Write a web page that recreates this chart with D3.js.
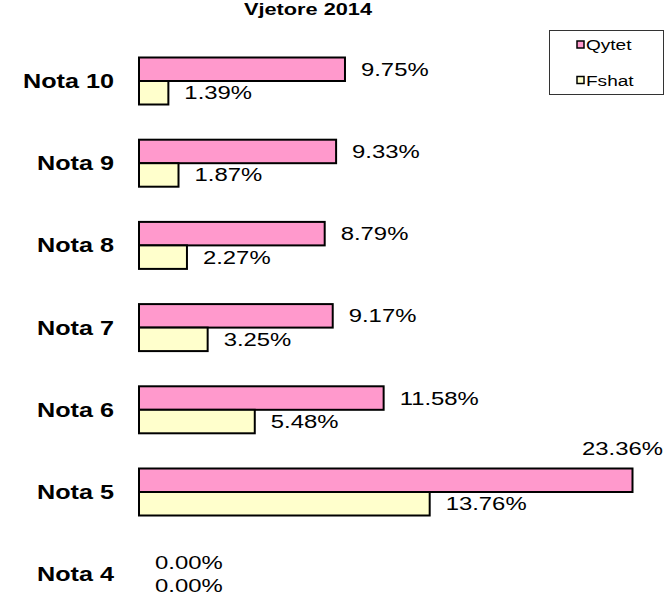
<!DOCTYPE html>
<html>
<head>
<meta charset="utf-8">
<script src="https://cdn.jsdelivr.net/npm/d3@7/dist/d3.min.js"></script>
<style>
  html, body { margin: 0; padding: 0; background: #fff; }
  svg { display: block; }
  text { font-family: "Liberation Sans", Arial, sans-serif; fill: #000; }
</style>
</head>
<body>
<svg id="chart" width="665" height="596"></svg>
<script>
const title = "Vjetore 2014";
const categories = ["Nota 10", "Nota 9", "Nota 8", "Nota 7", "Nota 6", "Nota 5", "Nota 4"];
const seriesNames = ["Qytet", "Fshat"];
const qytet = [9.75, 9.33, 8.79, 9.17, 11.58, 23.36, 0.00];
const fshat = [1.39, 1.87, 2.27, 3.25, 5.48, 13.76, 0.00];
const colors = ["#FF99CC", "#FFFFCC"];

const W = 665, H = 596;
const SX = 1.29; // horizontal stretch of the original rendering
const svg = d3.select("#chart");

const x = d3.scaleLinear().domain([0, 23.36]).range([139, 632.5]);
const y = d3.scaleBand().domain(categories).range([39.9, 615.3]).padding(0);
const barH = 23.5;

function stretchedText(sel, px, py, str, opts) {
  return sel.append("text")
    .attr("transform", `translate(${px},${py}) scale(${opts.sx || SX},1)`)
    .attr("font-size", opts.size)
    .attr("font-weight", opts.weight || "normal")
    .attr("text-anchor", opts.anchor || "start")
    .text(str);
}

// Title
stretchedText(svg, 308, 15, title, {size: 16, weight: "bold", anchor: "middle", sx: 1.36});

const series = [qytet, fshat];
const rows = categories.map((c, i) => ({cat: c, vals: series.map(s => s[i])}));

const g = svg.append("g");
rows.forEach(r => {
  const cy = y(r.cat) + y.bandwidth() / 2;
  stretchedText(g, 114, cy + 7, r.cat, {size: 21, weight: "bold", anchor: "end", sx: 1.2});
  r.vals.forEach((v, k) => {
    const top = cy - barH + k * barH;
    if (v > 0) {
      g.append("rect")
        .attr("x", x(0))
        .attr("y", top)
        .attr("width", x(v) - x(0))
        .attr("height", barH)
        .attr("fill", colors[k])
        .attr("stroke", "#000")
        .attr("stroke-width", 2);
    }
    const label = v.toFixed(2) + "%";
    const lx = x(v) + 16;
    const estW = label.length * 0.58 * 18.5 * SX;
    if (lx + estW > W) {
      stretchedText(g, 663, top - 14, label, {size: 18.5, anchor: "end"});
    } else {
      stretchedText(g, lx, top + barH / 2 + 6.5, label, {size: 18.5});
    }
  });
});

// Legend
const lg = svg.append("g");
lg.append("rect").attr("x", 549.5).attr("y", 30.5).attr("width", 114).attr("height", 64)
  .attr("fill", "#fff").attr("stroke", "#333").attr("stroke-width", 1);
const legY = [44.5, 80];
seriesNames.forEach((n, k) => {
  lg.append("rect").attr("x", 577).attr("y", legY[k] - 3.5).attr("width", 7).attr("height", 7)
    .attr("fill", colors[k]).attr("stroke", "#000").attr("stroke-width", 1.5);
  stretchedText(lg, 586, legY[k] + 5.5, n, {size: 14, sx: 1.36});
});
</script>
</body>
</html>
